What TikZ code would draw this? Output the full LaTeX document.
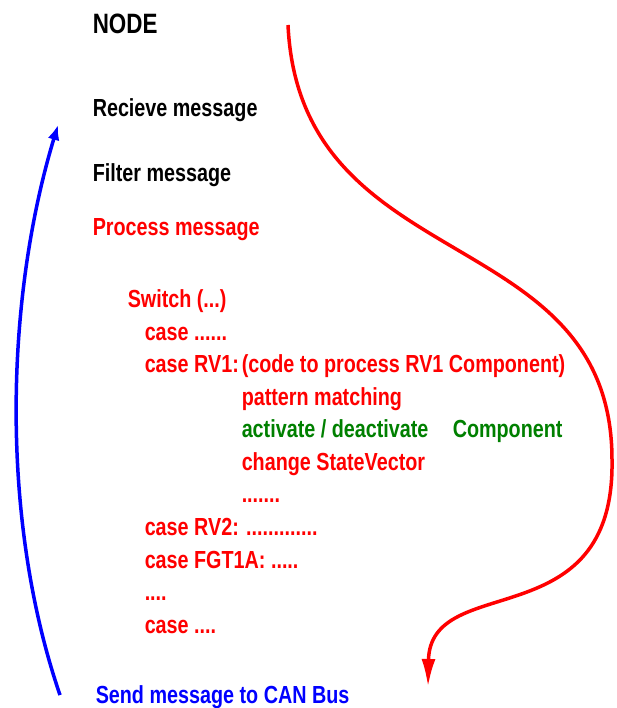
\documentclass[tikz,border=0pt]{standalone}
\usepackage{fontspec}
\usepackage{tikz}
\usetikzlibrary{arrows.meta}
\newfontfamily\slidefont{Liberation Sans}[FakeStretch=0.8]
\definecolor{msgred}{RGB}{255, 0, 0}
\definecolor{msggreen}{RGB}{0, 128, 0}
\definecolor{msgblue}{RGB}{0, 0, 255}

\begin{document}
\begin{tikzpicture}[x=1pt, y=-1pt, line width=3.5pt,
  every node/.style={anchor=base west, inner sep=0pt,
    font=\slidefont\bfseries\fontsize{24.7}{30}\selectfont},
  code/.style={color=msgred}]

  \useasboundingbox (0, 0) rectangle (616, 708);

  \node (title) at (91, 34) {\fontsize{28}{32}\selectfont NODE};
  \node (recv) at (91, 117) {Recieve message};
  \node (filter) at (91, 182) {Filter message};
  \node[code] (process) at (91, 236) {Process message};

  \node[code] (switch) at (126, 307) {Switch (...)};
  \node[code] (case0) at (143, 340) {case ......};
  \node[code] (case1) at (143, 372) {case RV1:};
  \node[code] (codeRV) at (240, 372) {(code to process RV1 Component)};
  \node[code] (pattern) at (240, 405) {pattern matching};
  \node[color=msggreen] (activate) at (240, 437) {activate / deactivate};
  \node[color=msggreen] (component) at (451, 437) {Component};
  \node[code] (state) at (240, 470) {change StateVector};
  \node[code] (more) at (240, 502) {.......};
  \node[code] (case2) at (143, 535) {case RV2: .............};
  \node[code] (case3) at (143, 568) {case FGT1A: .....};
  \node[code] (etc) at (143, 600) {....};
  \node[code] (caseN) at (143, 633) {case ....};

  \node[color=msgblue] (send) at (94, 703) {Send message to CAN Bus};

  \coordinate (redtop) at (288, 25);
  \coordinate (redside) at (612, 460);
  \coordinate (redtip) at (428, 687);
  \coordinate (bluefoot) at (60, 695);
  \coordinate (bluetip) at (58, 125);

  \draw[msgred, -{Latex[length=28pt, width=14pt]}]
    (redtop) .. controls (300, 280) and (612, 220) .. (redside)
    .. controls (615, 640) and (430, 570) .. (redtip);

  \draw[msgblue, -{Latex[length=15pt, width=12pt]}]
    (bluefoot) .. controls (0, 520) and (5, 300) .. (bluetip);

\end{tikzpicture}
\end{document}
